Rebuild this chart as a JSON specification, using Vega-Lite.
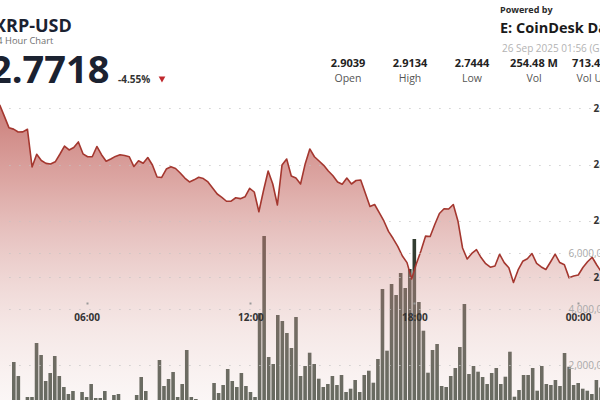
{
  "$schema": "https://vega.github.io/schema/vega-lite/v6.json",
  "width": 600,
  "height": 400,
  "autosize": {"type": "none"},
  "padding": 0,
  "background": "white",
  "usermeta": {"embedOptions": {"actions": false}},
  "config": {"view": {"stroke": null}, "font": "Open Sans"},
  "datasets": {
    "series": [
      {"t":"2025-09-25 03:00","price":2.9030,"vol":500000},
      {"t":"2025-09-25 03:10","price":2.8930,"vol":600000},
      {"t":"2025-09-25 03:20","price":2.8828,"vol":2107000},
      {"t":"2025-09-25 03:30","price":2.8815,"vol":1607000},
      {"t":"2025-09-25 03:40","price":2.8790,"vol":571000},
      {"t":"2025-09-25 03:50","price":2.8791,"vol":857000},
      {"t":"2025-09-25 04:00","price":2.8814,"vol":857000},
      {"t":"2025-09-25 04:10","price":2.8479,"vol":2786000},
      {"t":"2025-09-25 04:20","price":2.8592,"vol":2357000},
      {"t":"2025-09-25 04:30","price":2.8537,"vol":1429000},
      {"t":"2025-09-25 04:40","price":2.8511,"vol":1714000},
      {"t":"2025-09-25 04:50","price":2.8506,"vol":2321000},
      {"t":"2025-09-25 05:00","price":2.8525,"vol":1607000},
      {"t":"2025-09-25 05:10","price":2.8592,"vol":1214000},
      {"t":"2025-09-25 05:20","price":2.8665,"vol":964000},
      {"t":"2025-09-25 05:30","price":2.8630,"vol":1071000},
      {"t":"2025-09-25 05:40","price":2.8652,"vol":600000},
      {"t":"2025-09-25 05:50","price":2.8701,"vol":1036000},
      {"t":"2025-09-25 06:00","price":2.8596,"vol":857000},
      {"t":"2025-09-25 06:10","price":2.8570,"vol":1321000},
      {"t":"2025-09-25 06:20","price":2.8570,"vol":821000},
      {"t":"2025-09-25 06:30","price":2.8661,"vol":821000},
      {"t":"2025-09-25 06:40","price":2.8588,"vol":1071000},
      {"t":"2025-09-25 06:50","price":2.8530,"vol":550000},
      {"t":"2025-09-25 07:00","price":2.8550,"vol":929000},
      {"t":"2025-09-25 07:10","price":2.8573,"vol":964000},
      {"t":"2025-09-25 07:20","price":2.8588,"vol":500000},
      {"t":"2025-09-25 07:30","price":2.8581,"vol":450000},
      {"t":"2025-09-25 07:40","price":2.8570,"vol":600000},
      {"t":"2025-09-25 07:50","price":2.8483,"vol":929000},
      {"t":"2025-09-25 08:00","price":2.8534,"vol":1571000},
      {"t":"2025-09-25 08:10","price":2.8512,"vol":1071000},
      {"t":"2025-09-25 08:20","price":2.8563,"vol":600000},
      {"t":"2025-09-25 08:30","price":2.8497,"vol":650000},
      {"t":"2025-09-25 08:40","price":2.8390,"vol":2179000},
      {"t":"2025-09-25 08:50","price":2.8386,"vol":1250000},
      {"t":"2025-09-25 09:00","price":2.8461,"vol":1500000},
      {"t":"2025-09-25 09:10","price":2.8481,"vol":1750000},
      {"t":"2025-09-25 09:20","price":2.8466,"vol":857000},
      {"t":"2025-09-25 09:30","price":2.8426,"vol":1321000},
      {"t":"2025-09-25 09:40","price":2.8381,"vol":2536000},
      {"t":"2025-09-25 09:50","price":2.8346,"vol":857000},
      {"t":"2025-09-25 10:00","price":2.8365,"vol":786000},
      {"t":"2025-09-25 10:10","price":2.8388,"vol":550000},
      {"t":"2025-09-25 10:20","price":2.8376,"vol":500000},
      {"t":"2025-09-25 10:30","price":2.8346,"vol":600000},
      {"t":"2025-09-25 10:40","price":2.8293,"vol":1357000},
      {"t":"2025-09-25 10:50","price":2.8239,"vol":1000000},
      {"t":"2025-09-25 11:00","price":2.8210,"vol":1286000},
      {"t":"2025-09-25 11:10","price":2.8175,"vol":1857000},
      {"t":"2025-09-25 11:20","price":2.8176,"vol":1429000},
      {"t":"2025-09-25 11:30","price":2.8206,"vol":1214000},
      {"t":"2025-09-25 11:40","price":2.8198,"vol":1714000},
      {"t":"2025-09-25 11:50","price":2.8214,"vol":1250000},
      {"t":"2025-09-25 12:00","price":2.8290,"vol":1036000},
      {"t":"2025-09-25 12:10","price":2.8257,"vol":857000},
      {"t":"2025-09-25 12:20","price":2.8082,"vol":3857000},
      {"t":"2025-09-25 12:30","price":2.8270,"vol":6607000},
      {"t":"2025-09-25 12:40","price":2.8443,"vol":2286000},
      {"t":"2025-09-25 12:50","price":2.8328,"vol":2036000},
      {"t":"2025-09-25 13:00","price":2.8142,"vol":3786000},
      {"t":"2025-09-25 13:10","price":2.8497,"vol":3571000},
      {"t":"2025-09-25 13:20","price":2.8550,"vol":3143000},
      {"t":"2025-09-25 13:30","price":2.8399,"vol":2607000},
      {"t":"2025-09-25 13:40","price":2.8381,"vol":3714000},
      {"t":"2025-09-25 13:50","price":2.8328,"vol":1607000},
      {"t":"2025-09-25 14:00","price":2.8506,"vol":1964000},
      {"t":"2025-09-25 14:10","price":2.8639,"vol":2439000},
      {"t":"2025-09-25 14:20","price":2.8570,"vol":2036000},
      {"t":"2025-09-25 14:30","price":2.8532,"vol":1511000},
      {"t":"2025-09-25 14:40","price":2.8494,"vol":1214000},
      {"t":"2025-09-25 14:50","price":2.8443,"vol":1321000},
      {"t":"2025-09-25 15:00","price":2.8401,"vol":1607000},
      {"t":"2025-09-25 15:10","price":2.8346,"vol":1286000},
      {"t":"2025-09-25 15:20","price":2.8326,"vol":1643000},
      {"t":"2025-09-25 15:30","price":2.8381,"vol":1036000},
      {"t":"2025-09-25 15:40","price":2.8328,"vol":1154000},
      {"t":"2025-09-25 15:50","price":2.8359,"vol":1464000},
      {"t":"2025-09-25 16:00","price":2.8364,"vol":1036000},
      {"t":"2025-09-25 16:10","price":2.8246,"vol":1643000},
      {"t":"2025-09-25 16:20","price":2.8128,"vol":1796000},
      {"t":"2025-09-25 16:30","price":2.8146,"vol":1368000},
      {"t":"2025-09-25 16:40","price":2.8073,"vol":2214000},
      {"t":"2025-09-25 16:50","price":2.8000,"vol":4714000},
      {"t":"2025-09-25 17:00","price":2.7907,"vol":2511000},
      {"t":"2025-09-25 17:10","price":2.7844,"vol":4893000},
      {"t":"2025-09-25 17:20","price":2.7775,"vol":4500000},
      {"t":"2025-09-25 17:30","price":2.7689,"vol":5286000},
      {"t":"2025-09-25 17:40","price":2.7630,"vol":4750000},
      {"t":"2025-09-25 17:50","price":2.7485,"vol":5429000},
      {"t":"2025-09-25 18:00","price":2.7618,"vol":6500000},
      {"t":"2025-09-25 18:10","price":2.7733,"vol":4250000},
      {"t":"2025-09-25 18:20","price":2.7865,"vol":3225000},
      {"t":"2025-09-25 18:30","price":2.7862,"vol":1725000},
      {"t":"2025-09-25 18:40","price":2.7969,"vol":2536000},
      {"t":"2025-09-25 18:50","price":2.8066,"vol":2750000},
      {"t":"2025-09-25 19:00","price":2.8108,"vol":1250000},
      {"t":"2025-09-25 19:10","price":2.8106,"vol":1214000},
      {"t":"2025-09-25 19:20","price":2.8146,"vol":1607000},
      {"t":"2025-09-25 19:30","price":2.8000,"vol":1893000},
      {"t":"2025-09-25 19:40","price":2.7760,"vol":2643000},
      {"t":"2025-09-25 19:50","price":2.7662,"vol":4179000},
      {"t":"2025-09-25 20:00","price":2.7712,"vol":1679000},
      {"t":"2025-09-25 20:10","price":2.7745,"vol":1964000},
      {"t":"2025-09-25 20:20","price":2.7675,"vol":1761000},
      {"t":"2025-09-25 20:30","price":2.7621,"vol":1571000},
      {"t":"2025-09-25 20:40","price":2.7590,"vol":1321000},
      {"t":"2025-09-25 20:50","price":2.7600,"vol":1714000},
      {"t":"2025-09-25 21:00","price":2.7705,"vol":1893000},
      {"t":"2025-09-25 21:10","price":2.7630,"vol":1321000},
      {"t":"2025-09-25 21:20","price":2.7584,"vol":1582000},
      {"t":"2025-09-25 21:30","price":2.7454,"vol":2475000},
      {"t":"2025-09-25 21:40","price":2.7565,"vol":868000},
      {"t":"2025-09-25 21:50","price":2.7642,"vol":1107000},
      {"t":"2025-09-25 22:00","price":2.7664,"vol":1643000},
      {"t":"2025-09-25 22:10","price":2.7711,"vol":1643000},
      {"t":"2025-09-25 22:20","price":2.7623,"vol":1893000},
      {"t":"2025-09-25 22:30","price":2.7592,"vol":1082000},
      {"t":"2025-09-25 22:40","price":2.7569,"vol":1964000},
      {"t":"2025-09-25 22:50","price":2.7636,"vol":1321000},
      {"t":"2025-09-25 23:00","price":2.7705,"vol":1286000},
      {"t":"2025-09-25 23:10","price":2.7631,"vol":1464000},
      {"t":"2025-09-25 23:20","price":2.7612,"vol":1250000},
      {"t":"2025-09-25 23:30","price":2.7497,"vol":2429000},
      {"t":"2025-09-25 23:40","price":2.7512,"vol":1939000},
      {"t":"2025-09-25 23:50","price":2.7520,"vol":1286000},
      {"t":"2025-09-26 00:00","price":2.7587,"vol":1357000},
      {"t":"2025-09-26 00:10","price":2.7638,"vol":1154000},
      {"t":"2025-09-26 00:20","price":2.7678,"vol":1082000},
      {"t":"2025-09-26 00:30","price":2.7609,"vol":964000},
      {"t":"2025-09-26 00:40","price":2.7547,"vol":1464000},
      {"t":"2025-09-26 00:50","price":2.7565,"vol":1200000}
    ],
    "header": [
      {"item":"ticker","text":"XRP-USD"},
      {"item":"period","text":"24 Hour Chart"},
      {"item":"last","text":"2.7718"},
      {"item":"change","text":"-4.55%"},
      {"item":"arrow","text":"down"},
      {"item":"powered","text":"Powered by"},
      {"item":"brand","text":"E: CoinDesk Data"},
      {"item":"stamp","text":"26 Sep 2025 01:56 (GMT)"}
    ],
    "stats": [
      {"stat":"Open","row":"value","text":"2.9039"},
      {"stat":"Open","row":"label","text":"Open"},
      {"stat":"High","row":"value","text":"2.9134"},
      {"stat":"High","row":"label","text":"High"},
      {"stat":"Low","row":"value","text":"2.7444"},
      {"stat":"Low","row":"label","text":"Low"},
      {"stat":"Vol","row":"value","text":"254.48 M"},
      {"stat":"Vol","row":"label","text":"Vol"},
      {"stat":"Vol USD","row":"value","text":"713.41 M"},
      {"stat":"Vol USD","row":"label","text":"Vol USD"}
    ]
  },
  "resolve": {"scale": {"x": "independent", "y": "independent"}},
  "layer": [
    {
      "data": {"name": "series"},
      "mark": {"type": "bar", "clip": true, "size": 3.6, "color": "#333d31"},
      "encoding": {
        "x": {
          "field": "t", "type": "temporal",
          "scale": {"nice": false, "domain": [{"year":2025,"month":9,"date":25,"hours":3,"minutes":0,"seconds":42},{"year":2025,"month":9,"date":26,"hours":0,"minutes":36,"seconds":56}]},
          "axis": {
            "orient": "bottom", "offset": -98, "title": null,
            "values": [{"year":2025,"month":9,"date":25,"hours":6},{"year":2025,"month":9,"date":25,"hours":12},{"year":2025,"month":9,"date":25,"hours":18},{"year":2025,"month":9,"date":26,"hours":0}],
            "format": "%H:%M", "domain": false, "grid": false,
            "ticks": true, "tickSize": 2, "tickWidth": 2, "tickColor": "#9a9a9a",
            "labelPadding": 8, "labelFont": "Open Sans", "labelFontWeight": "bold", "labelFontSize": 10,
            "labelColor": "#333333", "labelFlush": false, "zindex": 1
          }
        },
        "y": {
          "field": "vol", "type": "quantitative",
          "scale": {"domain": [750000, 15035714], "zero": false, "nice": false},
          "axis": {
            "orient": "right", "offset": -32, "title": null,
            "values": [2000000, 4000000, 6000000], "format": ",d",
            "ticks": false, "domain": false, "labelPadding": 0,
            "labelFont": "Open Sans", "labelFontSize": 10, "labelColor": "#a8a8a8",
            "grid": true, "gridColor": "#c4c4c4", "gridDash": [1.2, 8.8], "gridWidth": 1.2, "zindex": 1
          }
        },
        "y2": {"datum": 0}
      }
    },
    {
      "data": {"name": "series"},
      "mark": {
        "type": "area", "clip": true,
        "color": {
          "gradient": "linear", "x1": 0, "y1": 0, "x2": 0, "y2": 1,
          "stops": [
            {"offset": 0, "color": "rgba(184,80,74,0.74)"},
            {"offset": 0.25, "color": "rgba(196,105,99,0.6)"},
            {"offset": 0.52, "color": "rgba(212,148,143,0.46)"},
            {"offset": 0.76, "color": "rgba(228,190,186,0.36)"},
            {"offset": 1, "color": "rgba(240,224,222,0.28)"}
          ]
        }
      },
      "encoding": {
        "x": {
          "field": "t", "type": "temporal",
          "scale": {"nice": false, "domain": [{"year":2025,"month":9,"date":25,"hours":3,"minutes":0,"seconds":42},{"year":2025,"month":9,"date":26,"hours":0,"minutes":36,"seconds":56}]},
          "axis": null
        },
        "y": {
          "field": "price", "type": "quantitative",
          "scale": {"domain": [2.6411, 2.9961], "zero": false, "nice": false},
          "axis": {
            "orient": "right", "offset": -7, "title": null,
            "values": [2.75, 2.8, 2.85, 2.9], "format": ".2f",
            "ticks": false, "domain": false, "labelPadding": 0,
            "labelFont": "Open Sans", "labelFontWeight": "bold", "labelFontSize": 10, "labelColor": "#333333",
            "grid": true, "gridColor": "#c4c4c4", "gridDash": [1.2, 8.8], "gridWidth": 1.2, "zindex": 1
          }
        },
        "y2": {"datum": 2.6411}
      }
    },
    {
      "data": {"name": "series"},
      "mark": {"type": "line", "clip": true, "color": "#a4372f", "strokeWidth": 1.6, "strokeJoin": "round"},
      "encoding": {
        "x": {
          "field": "t", "type": "temporal",
          "scale": {"nice": false, "domain": [{"year":2025,"month":9,"date":25,"hours":3,"minutes":0,"seconds":42},{"year":2025,"month":9,"date":26,"hours":0,"minutes":36,"seconds":56}]},
          "axis": null
        },
        "y": {
          "field": "price", "type": "quantitative",
          "scale": {"domain": [2.6411, 2.9961], "zero": false, "nice": false},
          "axis": null
        }
      }
    },
    {
      "data": {"name": "header"},
      "transform": [{"filter": "datum.item === 'ticker'"}],
      "mark": {"type": "text", "font": "Open Sans", "fontWeight": "bold", "fontSize": 18, "align": "left", "baseline": "alphabetic", "color": "#1b2231"},
      "encoding": {
        "x": {"field": "item", "type": "nominal", "scale": {"type": "point", "range": [-6, -6]}, "axis": null},
        "y": {"field": "item", "type": "nominal", "scale": {"type": "point", "range": [32, 32]}, "axis": null},
        "text": {"field": "text"}
      }
    },
    {
      "data": {"name": "header"},
      "transform": [{"filter": "datum.item === 'period'"}],
      "mark": {"type": "text", "font": "Open Sans", "fontSize": 9.3, "align": "left", "baseline": "alphabetic", "color": "#6f6f6f"},
      "encoding": {
        "x": {"field": "item", "type": "nominal", "scale": {"type": "point", "range": [-8, -8]}, "axis": null},
        "y": {"field": "item", "type": "nominal", "scale": {"type": "point", "range": [43.5, 43.5]}, "axis": null},
        "text": {"field": "text"}
      }
    },
    {
      "data": {"name": "header"},
      "transform": [{"filter": "datum.item === 'last'"}],
      "mark": {"type": "text", "font": "Open Sans", "fontWeight": "bold", "fontSize": 38, "align": "left", "baseline": "alphabetic", "color": "#1b2231"},
      "encoding": {
        "x": {"field": "item", "type": "nominal", "scale": {"type": "point", "range": [-10, -10]}, "axis": null},
        "y": {"field": "item", "type": "nominal", "scale": {"type": "point", "range": [83, 83]}, "axis": null},
        "text": {"field": "text"}
      }
    },
    {
      "data": {"name": "header"},
      "transform": [{"filter": "datum.item === 'change'"}],
      "mark": {"type": "text", "font": "Open Sans", "fontWeight": "bold", "fontSize": 10, "align": "left", "baseline": "alphabetic", "color": "#333333"},
      "encoding": {
        "x": {"field": "item", "type": "nominal", "scale": {"type": "point", "range": [118, 118]}, "axis": null},
        "y": {"field": "item", "type": "nominal", "scale": {"type": "point", "range": [83, 83]}, "axis": null},
        "text": {"field": "text"}
      }
    },
    {
      "data": {"name": "header"},
      "transform": [{"filter": "datum.item === 'arrow'"}],
      "mark": {"type": "point", "shape": "triangle-down", "filled": true, "size": 45, "color": "#c0282d", "opacity": 1},
      "encoding": {
        "x": {"field": "item", "type": "nominal", "scale": {"type": "point", "range": [162, 162]}, "axis": null},
        "y": {"field": "item", "type": "nominal", "scale": {"type": "point", "range": [79.5, 79.5]}, "axis": null}
      }
    },
    {
      "data": {"name": "header"},
      "transform": [{"filter": "datum.item === 'powered'"}],
      "mark": {"type": "text", "font": "Open Sans", "fontWeight": "bold", "fontSize": 9, "align": "left", "baseline": "alphabetic", "color": "#2b2b2b"},
      "encoding": {
        "x": {"field": "item", "type": "nominal", "scale": {"type": "point", "range": [500, 500]}, "axis": null},
        "y": {"field": "item", "type": "nominal", "scale": {"type": "point", "range": [13, 13]}, "axis": null},
        "text": {"field": "text"}
      }
    },
    {
      "data": {"name": "header"},
      "transform": [{"filter": "datum.item === 'brand'"}],
      "mark": {"type": "text", "font": "Open Sans", "fontWeight": "bold", "fontSize": 14.5, "align": "left", "baseline": "alphabetic", "color": "#1a1a1a"},
      "encoding": {
        "x": {"field": "item", "type": "nominal", "scale": {"type": "point", "range": [500, 500]}, "axis": null},
        "y": {"field": "item", "type": "nominal", "scale": {"type": "point", "range": [33.3, 33.3]}, "axis": null},
        "text": {"field": "text"}
      }
    },
    {
      "data": {"name": "header"},
      "transform": [{"filter": "datum.item === 'stamp'"}],
      "mark": {"type": "text", "font": "Open Sans", "fontSize": 10, "align": "left", "baseline": "alphabetic", "color": "#b3b3b3"},
      "encoding": {
        "x": {"field": "item", "type": "nominal", "scale": {"type": "point", "range": [502, 502]}, "axis": null},
        "y": {"field": "item", "type": "nominal", "scale": {"type": "point", "range": [51.5, 51.5]}, "axis": null},
        "text": {"field": "text"}
      }
    },
    {
      "data": {"name": "stats"},
      "transform": [{"filter": "datum.row === 'value'"}],
      "mark": {"type": "text", "font": "Open Sans", "fontWeight": "bold", "fontSize": 11, "align": "center", "baseline": "alphabetic", "color": "#222222"},
      "encoding": {
        "x": {"field": "stat", "type": "nominal", "scale": {"type": "point", "domain": ["Open","High","Low","Vol","Vol USD"], "range": [348, 596], "padding": 0}, "axis": null},
        "y": {"field": "row", "type": "nominal", "scale": {"type": "point", "domain": ["value","label"], "range": [67, 81.5], "padding": 0}, "axis": null},
        "text": {"field": "text"}
      }
    },
    {
      "data": {"name": "stats"},
      "transform": [{"filter": "datum.row === 'label'"}],
      "mark": {"type": "text", "font": "Open Sans", "fontSize": 10.5, "align": "center", "baseline": "alphabetic", "color": "#555555"},
      "encoding": {
        "x": {"field": "stat", "type": "nominal", "scale": {"type": "point", "domain": ["Open","High","Low","Vol","Vol USD"], "range": [348, 596], "padding": 0}, "axis": null},
        "y": {"field": "row", "type": "nominal", "scale": {"type": "point", "domain": ["value","label"], "range": [67, 81.5], "padding": 0}, "axis": null},
        "text": {"field": "text"}
      }
    }
  ]
}
